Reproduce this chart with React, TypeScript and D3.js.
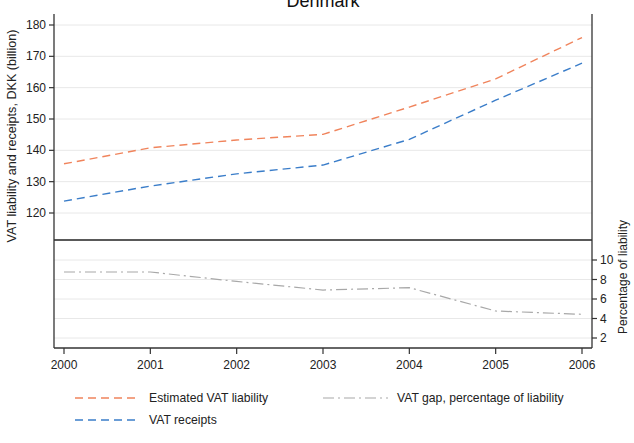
import React from 'react';
import * as d3 from 'd3';

const years = [2000, 2001, 2002, 2003, 2004, 2005, 2006];
const liability = [135.7, 140.8, 143.3, 145.1, 153.8, 162.8, 176.0];
const receipts = [123.8, 128.6, 132.5, 135.3, 143.5, 156.0, 167.8];
const gapPct = [8.77, 8.77, 7.8, 6.92, 7.16, 4.77, 4.43];

const leftTicks = [120, 130, 140, 150, 160, 170, 180];
const rightTicks = [2, 4, 6, 8, 10];

const COLORS = {
  liability: '#f0845c',
  receipts: '#3a7dc9',
  gap: '#a8a8a8',
  grid: '#e8e8e8',
  axis: '#333333',
};

const FONT = '"Liberation Sans", Arial, Helvetica, sans-serif';

export default function App() {
  const W = 634, H = 443;
  const left = 54, right = 592, top = 14, bottom = 348, divider = 240;

  const x = d3.scaleLinear().domain([2000, 2006]).range([64, 582]);
  const yL = d3.scaleLinear().domain([120, 180]).range([213, 25]);
  const yR = d3.scaleLinear().domain([2, 10]).range([338, 260]);

  const lineL = d3.line<number>().x((_, i) => x(years[i])).y(d => yL(d));
  const lineR = d3.line<number>().x((_, i) => x(years[i])).y(d => yR(d));

  return (
    <svg width={W} height={H} style={{ position: 'absolute', left: 0, top: 0, fontFamily: FONT }}>
      <rect width={W} height={H} fill="#fff" />
      <text x={323} y={7} textAnchor="middle" fontSize={18} fill="#111">Denmark</text>

      {/* grid */}
      {leftTicks.map(t => (
        <line key={'gl' + t} x1={left} x2={right} y1={yL(t)} y2={yL(t)} stroke={COLORS.grid} strokeWidth={1} />
      ))}
      {rightTicks.map(t => (
        <line key={'gr' + t} x1={left} x2={right} y1={yR(t)} y2={yR(t)} stroke={COLORS.grid} strokeWidth={1} />
      ))}

      {/* divider */}
      <line x1={left} x2={right} y1={divider} y2={divider} stroke="#222" strokeWidth={1.3} />

      {/* series */}
      <path d={lineL(liability) || ''} fill="none" stroke={COLORS.liability} strokeWidth={1.4} strokeDasharray="8,5" />
      <path d={lineL(receipts) || ''} fill="none" stroke={COLORS.receipts} strokeWidth={1.4} strokeDasharray="8,5" />
      <path d={lineR(gapPct) || ''} fill="none" stroke={COLORS.gap} strokeWidth={1.2} strokeDasharray="11,4,2,4" />

      {/* axes */}
      <line x1={left} x2={left} y1={top} y2={bottom} stroke={COLORS.axis} strokeWidth={1.3} />
      <line x1={right} x2={right} y1={top} y2={bottom} stroke={COLORS.axis} strokeWidth={1.3} />
      <line x1={left} x2={right} y1={bottom} y2={bottom} stroke={COLORS.axis} strokeWidth={1.3} />

      {leftTicks.map(t => (
        <g key={'lt' + t}>
          <line x1={left - 5} x2={left} y1={yL(t)} y2={yL(t)} stroke={COLORS.axis} strokeWidth={1.2} />
          <text x={left - 8} y={yL(t) + 4} textAnchor="end" fontSize={12} fill="#222">{t}</text>
        </g>
      ))}
      {rightTicks.map(t => (
        <g key={'rt' + t}>
          <line x1={right} x2={right + 5} y1={yR(t)} y2={yR(t)} stroke={COLORS.axis} strokeWidth={1.2} />
          <text x={right + 8} y={yR(t) + 4} textAnchor="start" fontSize={12} fill="#222">{t}</text>
        </g>
      ))}
      {years.map(yr => (
        <g key={'xt' + yr}>
          <line x1={x(yr)} x2={x(yr)} y1={bottom} y2={bottom + 6} stroke={COLORS.axis} strokeWidth={1.2} />
          <text x={x(yr)} y={bottom + 21} textAnchor="middle" fontSize={12} fill="#222">{yr}</text>
        </g>
      ))}

      <text transform={`translate(16,136) rotate(-90)`} textAnchor="middle" fontSize={12.6} fill="#222">
        VAT liability and receipts, DKK (billion)
      </text>
      <text transform={`translate(627,277) rotate(-90)`} textAnchor="middle" fontSize={12} fill="#222">
        Percentage of liability
      </text>

      {/* legend */}
      <line x1={75} x2={140} y1={398} y2={398} stroke={COLORS.liability} strokeWidth={1.4} strokeDasharray="8,5" />
      <text x={149} y={402} fontSize={12.2} fill="#222">Estimated VAT liability</text>
      <line x1={75} x2={140} y1={420} y2={420} stroke={COLORS.receipts} strokeWidth={1.4} strokeDasharray="8,5" />
      <text x={149} y={424} fontSize={12.2} fill="#222">VAT receipts</text>
      <line x1={323} x2={388} y1={398} y2={398} stroke={COLORS.gap} strokeWidth={1.2} strokeDasharray="11,4,2,4" />
      <text x={397} y={402} fontSize={12.2} fill="#222">VAT gap, percentage of liability</text>
    </svg>
  );
}
